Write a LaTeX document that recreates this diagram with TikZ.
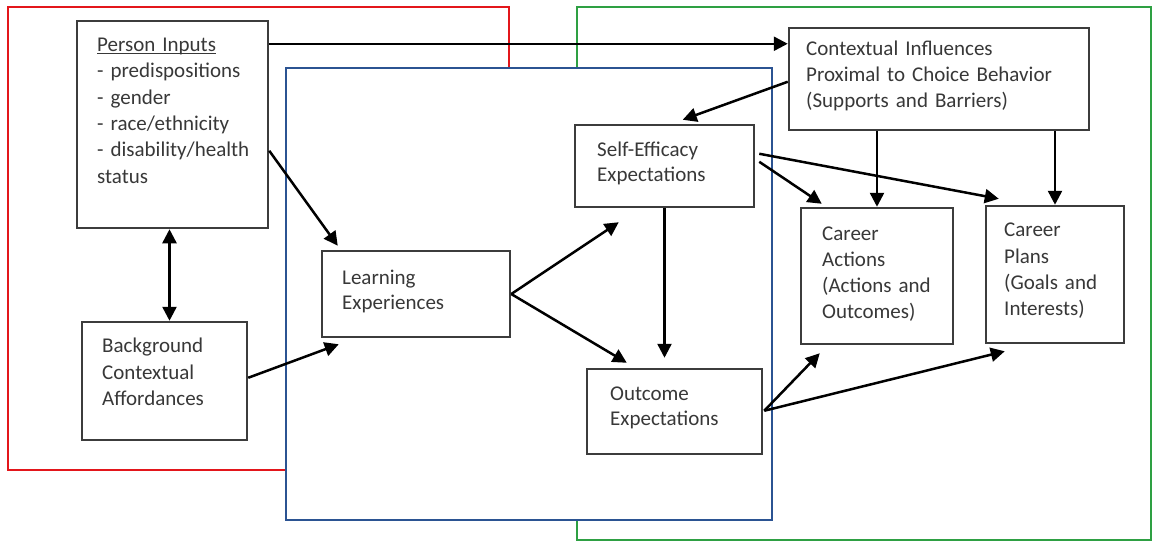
\documentclass[tikz,border=0pt]{standalone}
\usepackage{fontspec}
\setmainfont{Carlito}
\usetikzlibrary{arrows.meta,calc}
\definecolor{frameRed}{HTML}{E3161B}
\definecolor{frameGreen}{HTML}{2EA043}
\definecolor{frameBlue}{HTML}{2B5392}
\definecolor{inkGray}{HTML}{383838}
\definecolor{boxGray}{HTML}{3C3C3C}
% underlined heading whose rule crosses the descenders
\newcommand\headline[1]{\setbox0\hbox{#1}\rlap{\rule[-2.4pt]{\wd0}{1.2pt}}\box0}
\begin{document}
\begin{tikzpicture}[x=1pt,y=-1pt,
  box/.style={draw=boxGray, line width=2.5pt, fill=white, rectangle, inner sep=0pt},
  boxtext/.style={anchor=base west, inner sep=0pt, text=inkGray, align=left,
    text width=#1, font=\fontsize{21}{26.3}\selectfont},
  tighttext/.style={boxtext=#1, font=\fontsize{21}{25}\selectfont},
  link/.style={-{Triangle[length=14pt,width=14pt]}, line width=2.5pt, black},
  bilink/.style={{Triangle[length=14pt,width=14pt]}-{Triangle[length=14pt,width=14pt]}, line width=2.5pt, black},
  panel/.style={line width=2.8pt}
]
\useasboundingbox (0,0) rectangle (1154,542);

% the three grouping panels
\draw[panel, draw=frameRed] (8,7) rectangle (509,470);
\draw[panel, draw=frameGreen] (577,7) rectangle (1151,540);
\draw[panel, draw=frameBlue, fill=white] (286,68) rectangle (772,520);

% boxes
\node[box, minimum width=191pt, minimum height=207pt] (pi) at (172.5,124.5) {};
\node[box, minimum width=165pt, minimum height=118pt] (bg) at (164.5,381) {};
\node[box, minimum width=188pt, minimum height=86pt]  (le) at (416,294) {};
\node[box, minimum width=179pt, minimum height=82pt]  (se) at (664.5,166) {};
\node[box, minimum width=175pt, minimum height=85pt]  (oe) at (674.5,411.5) {};
\node[box, minimum width=300pt, minimum height=102pt] (ci) at (939,79) {};
\node[box, minimum width=152pt, minimum height=136pt] (ca) at (877,276) {};
\node[box, minimum width=138pt, minimum height=137pt] (cp) at (1055,274.5) {};

% box texts
\node[boxtext=165pt] (piT) at (97,51.5) {\headline{Person Inputs}\\- predispositions\\- gender\\- race/ethnicity\\- disability/health\\status};
\node[boxtext=140pt] (bgT) at (102,352.7) {Background\\Contextual\\Affordances};
\node[tighttext=160pt] (leT) at (342,284) {Learning\\Experiences};
\node[tighttext=150pt] (seT) at (597,156) {Self-Efficacy\\Expectations};
\node[tighttext=145pt] (oeT) at (610,400.7) {Outcome\\Expectations};
\node[boxtext=275pt] (ciT) at (806,55) {Contextual Influences\\Proximal to Choice Behavior\\(Supports and Barriers)};
\node[boxtext=125pt] (caT) at (822,240) {Career\\Actions\\(Actions and\\Outcomes)};
\node[boxtext=115pt] (cpT) at (1004,236.7) {Career\\Plans\\(Goals and\\Interests)};

% connectors
\draw[link] ($(pi.north east)+(0,24)$) coordinate (piOut) -- (ci.west |- piOut);
\draw[link] ($(pi.north east)+(0,131)$) -- ($(le.north west)+(17,-4)$);
\draw[bilink] ($(bg.north)+(5,0)$) coordinate (bgTop) -- (pi.south -| bgTop);
\draw[link] ($(bg.north east)+(0,57)$) -- ($(le.south west)+(18,6)$);
\draw[link] (le.east) -- ($(se.south west)+(45,14)$);
\draw[link] (le.east) -- ($(oe.north west)+(41,-5)$);
\draw[link] (se.south) -- ($(se.south |- oe.north)+(0,-10)$);
\draw[link] ($(ci.north west)+(0,55)$) -- ($(se.north west)+(109,-4)$);
\draw[link] (ca.north |- ci.south) -- (ca.north);
\draw[link] (cp.north |- ci.south) -- (cp.north);
\draw[link] ($(se.north east)+(4,38)$) -- ($(ca.north west)+(22,-3)$);
\draw[link] ($(se.north east)+(4,30)$) -- ($(cp.north west)+(14,-6)$);
\draw[link] ($(oe.north east)+(1,43)$) coordinate (oeOut) -- ($(ca.south west)+(20,8)$);
\draw[link] (oeOut) -- ($(cp.south west)+(20,7)$);
\end{tikzpicture}
\end{document}
